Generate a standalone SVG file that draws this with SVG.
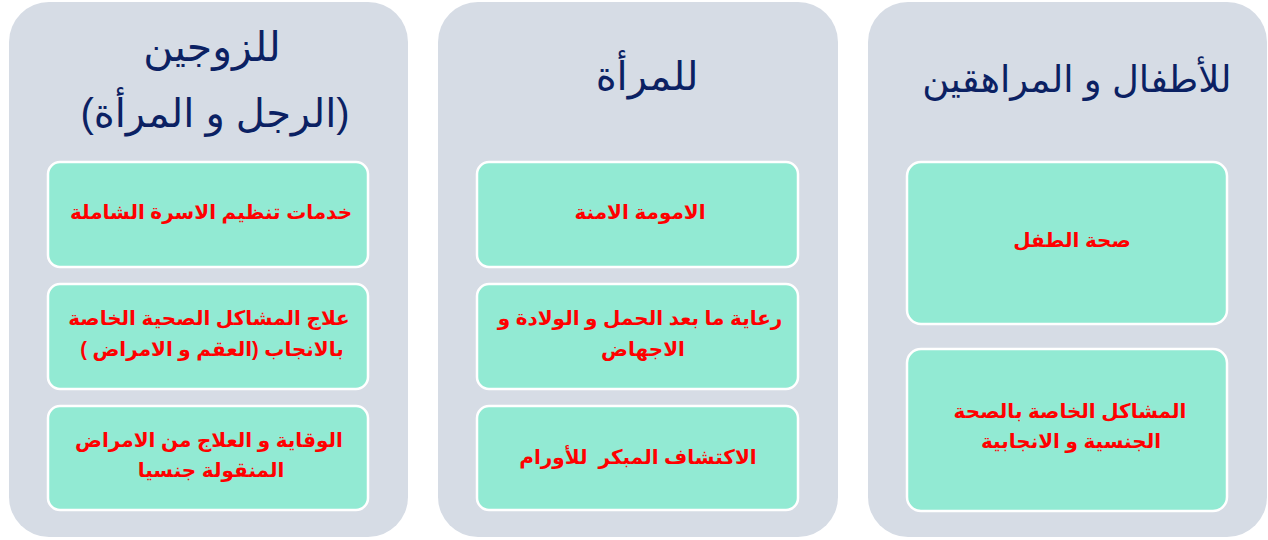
<svg xmlns="http://www.w3.org/2000/svg" width="1268" height="540" viewBox="0 0 1268 540">
  <style>
    .panel { fill: #d6dce5; }
    .box { fill: #92ead3; stroke: #ffffff; stroke-width: 2.5; }
    .title { font-family: "Liberation Sans", "DejaVu Sans", sans-serif; fill: #0b2163; text-anchor: middle; direction: rtl; }
    .item { font-family: "Liberation Sans", "DejaVu Sans", sans-serif; font-weight: bold; font-size: 20px; fill: #ff0000; text-anchor: middle; direction: rtl; white-space: pre; }
  </style>
  <rect width="1268" height="540" fill="#ffffff"/>

  <g id="panel-couples">
    <rect class="panel" x="9" y="2" width="399" height="535" rx="40" ry="40"/>
    <text class="title" x="212" y="61" font-size="41">للزوجين</text>
    <text class="title" x="215" y="127" font-size="40">(الرجل و المرأة)</text>
  </g>
  <g id="box-c1">
    <rect class="box" x="48" y="162" width="320" height="105" rx="12" ry="12"/>
    <text class="item" x="211" y="219">خدمات تنظيم الاسرة الشاملة</text>
  </g>
  <g id="box-c2">
    <rect class="box" x="48" y="284" width="320" height="105" rx="12" ry="12"/>
    <text class="item" x="209" y="325">علاج المشاكل الصحية الخاصة</text>
    <text class="item" x="212" y="356">بالانجاب (العقم و الامراض )</text>
  </g>
  <g id="box-c3">
    <rect class="box" x="48" y="406" width="320" height="104" rx="12" ry="12"/>
    <text class="item" x="209" y="447">الوقاية و العلاج من الامراض</text>
    <text class="item" x="211" y="477">المنقولة جنسيا</text>
  </g>

  <g id="panel-women">
    <rect class="panel" x="438" y="2" width="400" height="535" rx="40" ry="40"/>
    <text class="title" x="647" y="90" font-size="40">للمرأة</text>
  </g>
  <g id="box-w1">
    <rect class="box" x="477" y="162" width="321" height="105" rx="12" ry="12"/>
    <text class="item" x="640" y="219">الامومة الامنة</text>
  </g>
  <g id="box-w2">
    <rect class="box" x="477" y="284" width="321" height="105" rx="12" ry="12"/>
    <text class="item" x="640" y="325">رعاية ما بعد الحمل و الولادة و</text>
    <text class="item" x="643" y="356">الاجهاض</text>
  </g>
  <g id="box-w3">
    <rect class="box" x="477" y="406" width="321" height="104" rx="12" ry="12"/>
    <text class="item" x="638" y="464">الاكتشاف المبكر  للأورام</text>
  </g>

  <g id="panel-children">
    <rect class="panel" x="868" y="2" width="399" height="535" rx="40" ry="40"/>
    <text class="title" x="1077" y="92" font-size="37">للأطفال و المراهقين</text>
  </g>
  <g id="box-k1">
    <rect class="box" x="907" y="162" width="320" height="162" rx="14" ry="14"/>
    <text class="item" x="1072" y="247">صحة الطفل</text>
  </g>
  <g id="box-k2">
    <rect class="box" x="907" y="349" width="320" height="162" rx="14" ry="14"/>
    <text class="item" x="1070" y="418">المشاكل الخاصة بالصحة</text>
    <text class="item" x="1071" y="448">الجنسية و الانجابية</text>
  </g>
</svg>
